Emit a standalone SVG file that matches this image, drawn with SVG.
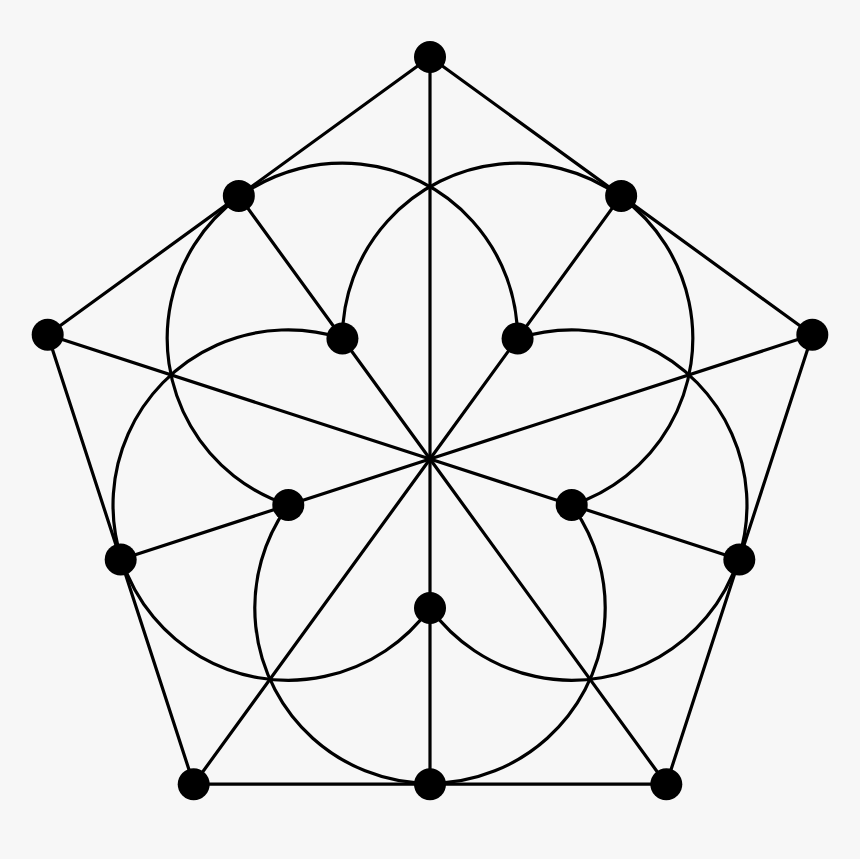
<svg xmlns="http://www.w3.org/2000/svg" width="860" height="859" viewBox="0 0 860 859">
<style>
.e{fill:none;stroke:#000;stroke-width:3.2;stroke-linecap:round;stroke-linejoin:round}
.n{fill:#000}
</style>
<rect width="860" height="859" fill="#f7f7f7"/>
<g id="connectors" class="e">
<polygon points="430,57 621.16,195.89 812.32,334.78 739.31,559.5 666.29,784.22 430,784.22 193.71,784.22 120.69,559.5 47.68,334.78 238.84,195.89"/>
<line x1="430" y1="459" x2="430" y2="57"/>
<line x1="430" y1="459" x2="812.32" y2="334.78"/>
<line x1="430" y1="459" x2="666.29" y2="784.22"/>
<line x1="430" y1="459" x2="193.71" y2="784.22"/>
<line x1="430" y1="459" x2="47.68" y2="334.78"/>
<line x1="430" y1="459" x2="621.16" y2="195.89"/>
<line x1="430" y1="459" x2="739.31" y2="559.5"/>
<line x1="430" y1="459" x2="430" y2="784.22"/>
<line x1="430" y1="459" x2="120.69" y2="559.5"/>
<line x1="430" y1="459" x2="238.84" y2="195.89"/>
<path d="M342.42,338.46 A175.2,175.2 0 1 1 571.71,505.04"/>
<path d="M517.58,338.46 A175.2,175.2 0 1 1 430,608"/>
<path d="M571.71,505.04 A175.2,175.2 0 1 1 288.29,505.04"/>
<path d="M430,608 A175.2,175.2 0 1 1 342.42,338.46"/>
<path d="M288.29,505.04 A175.2,175.2 0 1 1 517.58,338.46"/>
</g>
<g id="v0"><circle class="n" cx="430" cy="57" r="16"/></g>
<g id="v1"><circle class="n" cx="812.32" cy="334.78" r="16"/></g>
<g id="v2"><circle class="n" cx="666.29" cy="784.22" r="16"/></g>
<g id="v3"><circle class="n" cx="193.71" cy="784.22" r="16"/></g>
<g id="v4"><circle class="n" cx="47.68" cy="334.78" r="16"/></g>
<g id="m0"><circle class="n" cx="621.16" cy="195.89" r="16"/></g>
<g id="m1"><circle class="n" cx="739.31" cy="559.5" r="16"/></g>
<g id="m2"><circle class="n" cx="430" cy="784.22" r="16"/></g>
<g id="m3"><circle class="n" cx="120.69" cy="559.5" r="16"/></g>
<g id="m4"><circle class="n" cx="238.84" cy="195.89" r="16"/></g>
<g id="i0"><circle class="n" cx="517.58" cy="338.46" r="16"/></g>
<g id="i1"><circle class="n" cx="571.71" cy="505.04" r="16"/></g>
<g id="i2"><circle class="n" cx="430" cy="608" r="16"/></g>
<g id="i3"><circle class="n" cx="288.29" cy="505.04" r="16"/></g>
<g id="i4"><circle class="n" cx="342.42" cy="338.46" r="16"/></g>
</svg>
